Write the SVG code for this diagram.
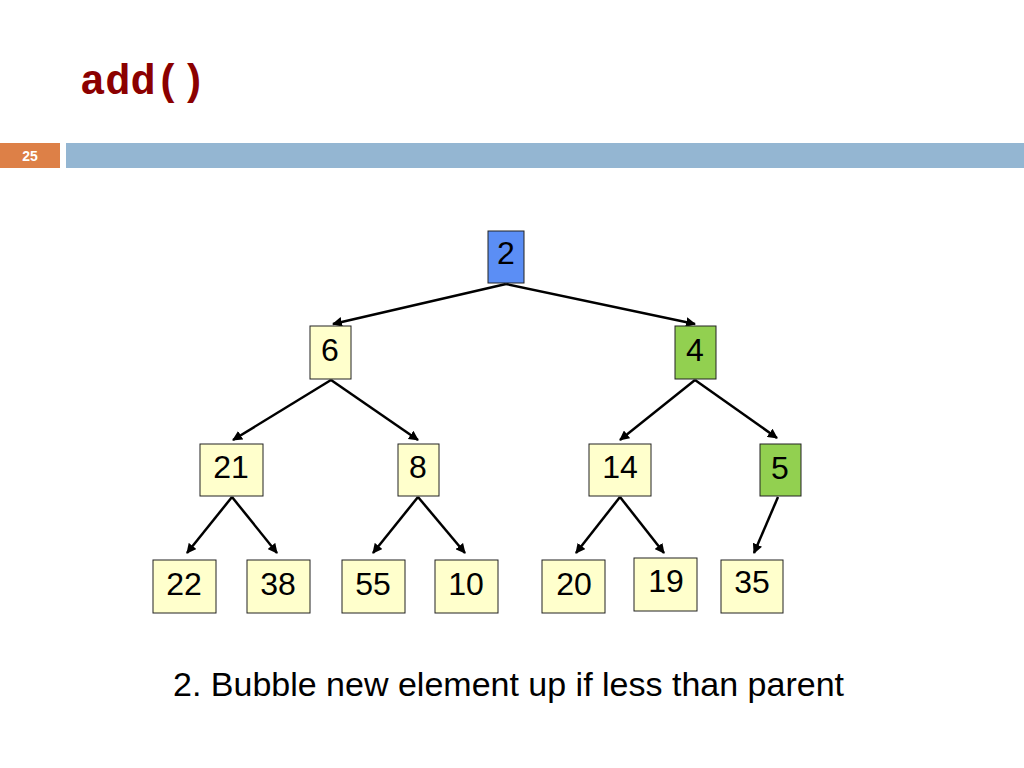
<svg xmlns="http://www.w3.org/2000/svg" width="1024" height="768" viewBox="0 0 1024 768">
<style>
.n{fill:#FFFFCC;stroke:#222;stroke-width:1}
.t{font-family:"Liberation Sans",Arial,sans-serif;font-size:32px;fill:#000;text-anchor:middle}
.e{stroke:#000;stroke-width:2.5;fill:none;marker-end:url(#a)}
</style>
<defs><marker id="a" viewBox="0 0 10 10" refX="9" refY="5" markerWidth="4" markerHeight="4" orient="auto"><path d="M0,0L10,5L0,10z" fill="#000"/></marker></defs>
<rect width="1024" height="768" fill="#fff"/>
<text x="80" y="94" font-family="Liberation Mono,monospace" font-weight="bold" font-size="42" fill="#8B0000">add()</text>
<rect x="0" y="143" width="60" height="25" fill="#DD8047"/>
<text x="30" y="161" font-family="Liberation Sans,Arial,sans-serif" font-weight="bold" font-size="14" fill="#fff" text-anchor="middle">25</text>
<rect x="66" y="143" width="958" height="25" fill="#94B6D2"/>
<g id="edges">
<line class="e" x1="506" y1="284" x2="333" y2="324"/>
<line class="e" x1="506" y1="284" x2="695" y2="324"/>
<line class="e" x1="331" y1="380" x2="233" y2="440"/>
<line class="e" x1="331" y1="380" x2="418" y2="440"/>
<line class="e" x1="695" y1="380" x2="620" y2="440"/>
<line class="e" x1="695" y1="380" x2="777" y2="438"/>
<line class="e" x1="232" y1="497" x2="187" y2="553"/>
<line class="e" x1="232" y1="497" x2="277" y2="553"/>
<line class="e" x1="418" y1="497" x2="373" y2="553"/>
<line class="e" x1="418" y1="497" x2="465" y2="553"/>
<line class="e" x1="620" y1="497" x2="576" y2="553"/>
<line class="e" x1="620" y1="497" x2="664" y2="553"/>
<line class="e" x1="778" y1="497" x2="754" y2="553"/>
</g>
<g id="n2"><rect x="488" y="231" width="36" height="52" fill="#5B8EF5" stroke="#222"/><text class="t" x="506" y="264">2</text></g>
<g id="n6"><rect class="n" x="310" y="326" width="41" height="53"/><text class="t" x="330" y="361">6</text></g>
<g id="n4"><rect x="675" y="326" width="41" height="53" fill="#92D050" stroke="#222"/><text class="t" x="695" y="361">4</text></g>
<g id="n21"><rect class="n" x="200" y="444" width="63" height="52"/><text class="t" x="231" y="478">21</text></g>
<g id="n8"><rect class="n" x="398" y="444" width="41" height="52"/><text class="t" x="418" y="478">8</text></g>
<g id="n14"><rect class="n" x="589" y="444" width="62" height="52"/><text class="t" x="620" y="478">14</text></g>
<g id="n5"><rect x="760" y="444" width="41" height="52" fill="#92D050" stroke="#222"/><text class="t" x="780" y="479">5</text></g>
<g id="n22"><rect class="n" x="153" y="560" width="63" height="53"/><text class="t" x="184" y="595">22</text></g>
<g id="n38"><rect class="n" x="247" y="560" width="63" height="53"/><text class="t" x="278" y="595">38</text></g>
<g id="n55"><rect class="n" x="342" y="560" width="63" height="53"/><text class="t" x="373" y="595">55</text></g>
<g id="n10"><rect class="n" x="435" y="560" width="63" height="53"/><text class="t" x="466" y="595">10</text></g>
<g id="n20"><rect class="n" x="542" y="560" width="63" height="53"/><text class="t" x="574" y="595">20</text></g>
<g id="n19"><rect class="n" x="634" y="558" width="63" height="53"/><text class="t" x="666" y="592">19</text></g>
<g id="n35"><rect class="n" x="721" y="560" width="62" height="53"/><text class="t" x="752" y="593">35</text></g>
<text x="173" y="696" font-family="Liberation Sans,Arial,sans-serif" font-size="34" fill="#000">2. Bubble new element up if less than parent</text>
</svg>
